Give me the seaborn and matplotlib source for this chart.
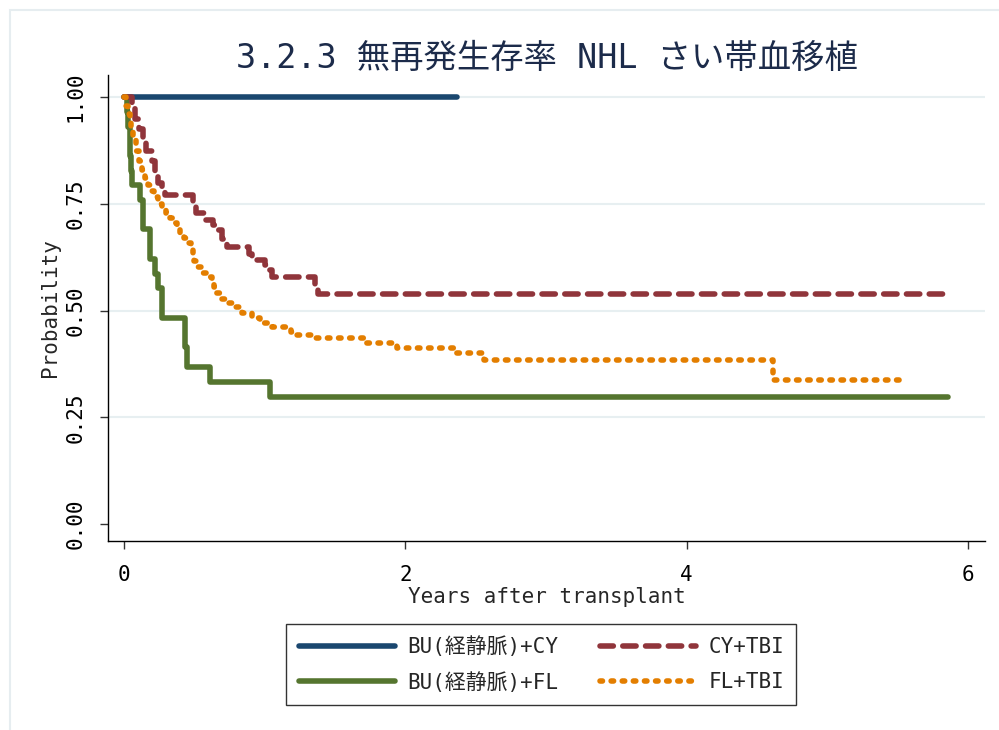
import numpy as np
import pandas as pd
import seaborn as sns
import matplotlib.pyplot as plt
from matplotlib.patches import Rectangle

# Kaplan-Meier step values
groups = ["BU(経静脈)+CY", "BU(経静脈)+FL", "CY+TBI", "FL+TBI"]

bu_cy_time = [0.0, 2.37]
bu_cy_surv = [1.0, 1.0]

bu_fl_time = [0.0, 0.02, 0.03, 0.04, 0.045, 0.05, 0.06, 0.113, 0.135, 0.185,
              0.22, 0.245, 0.27, 0.435, 0.45, 0.61, 1.04, 5.86]
bu_fl_surv = [1.0, 0.965, 0.93, 0.895, 0.862, 0.828, 0.794, 0.759, 0.69, 0.621,
              0.586, 0.552, 0.483, 0.414, 0.368, 0.333, 0.298, 0.298]

cy_tbi_time = [0.0, 0.06, 0.08, 0.11, 0.135, 0.16, 0.20, 0.22, 0.245, 0.27,
               0.29, 0.49, 0.51, 0.57, 0.63, 0.66, 0.70, 0.73, 0.89, 0.91,
               1.0, 1.02, 1.05, 1.36, 1.38, 5.82]
cy_tbi_surv = [1.0, 0.975, 0.95, 0.925, 0.9, 0.875, 0.85, 0.825, 0.80, 0.787,
               0.77, 0.745, 0.728, 0.712, 0.70, 0.688, 0.667, 0.649, 0.632, 0.618,
               0.606, 0.595, 0.578, 0.557, 0.538, 0.538]

fl_tbi_time = [0.0, 0.014, 0.028, 0.043, 0.05, 0.064, 0.085, 0.107, 0.128, 0.149,
               0.171, 0.192, 0.213, 0.242, 0.27, 0.299, 0.327, 0.348, 0.377, 0.398,
               0.426, 0.455, 0.476, 0.49, 0.498, 0.512, 0.554, 0.59, 0.625, 0.64,
               0.654, 0.697, 0.725, 0.775, 0.839, 0.91, 0.967, 1.052, 1.187, 1.208,
               1.343, 1.72, 1.94, 2.35, 2.56, 4.61, 5.55]
fl_tbi_surv = [1.0, 0.98, 0.96, 0.94, 0.92, 0.90, 0.875, 0.85, 0.83, 0.81,
               0.794, 0.78, 0.765, 0.75, 0.74, 0.728, 0.716, 0.705, 0.692, 0.681,
               0.67, 0.658, 0.645, 0.63, 0.615, 0.602, 0.588, 0.578, 0.571, 0.555,
               0.541, 0.528, 0.518, 0.508, 0.494, 0.482, 0.47, 0.461, 0.45, 0.443,
               0.436, 0.424, 0.412, 0.40, 0.384, 0.337, 0.337]

times = [bu_cy_time, bu_fl_time, cy_tbi_time, fl_tbi_time]
survs = [bu_cy_surv, bu_fl_surv, cy_tbi_surv, fl_tbi_surv]

df = pd.concat(
    [pd.DataFrame({"time": t, "surv": s, "group": g}) for g, t, s in zip(groups, times, survs)],
    ignore_index=True,
)

colors = ["#1a476f", "#55752f", "#90353b", "#e37e00"]
dashes = [None, None, (2.4, 1.7), (0.45, 1.55)]

sns.set_theme(style="white")
plt.rcParams["font.family"] = ["DejaVu Sans Mono", "Noto Sans CJK JP"]

fig = plt.figure(figsize=(9.99, 7.30), dpi=100)
ax = fig.add_axes([0.108, 0.259, 0.878, 0.638])

lw = 4
for g, c, d in zip(groups, colors, dashes):
    kw = dict(solid_capstyle="round", dash_capstyle="round")
    if d is not None:
        kw["dashes"] = d
    sns.lineplot(data=df[df["group"] == g], x="time", y="surv", ax=ax,
                 drawstyle="steps-post", estimator=None, color=c, lw=lw,
                 label=g, **kw)

ax.set_xlim(-0.114, 6.12)
ax.set_ylim(-0.0398, 1.0515)
ax.set_xticks([0, 2, 4, 6])
ax.set_yticks([0, 0.25, 0.5, 0.75, 1.0])
ax.set_yticklabels(["0.00", "0.25", "0.50", "0.75", "1.00"])
plt.setp(ax.get_yticklabels(), rotation=90, va="center")

ax.tick_params(axis="both", direction="out", length=6, width=1, color="#333333",
               labelsize=15, colors="black", left=True, bottom=True)
ax.tick_params(axis="y", pad=10)
ax.tick_params(axis="x", pad=11)

ax.yaxis.grid(True, color="#e7eff1", lw=1.5)
ax.xaxis.grid(False)
ax.yaxis.get_gridlines()[0].set_visible(False)
ax.set_axisbelow(True)

for side in ["top", "right"]:
    ax.spines[side].set_visible(False)
for side in ["left", "bottom"]:
    ax.spines[side].set_color("black")
    ax.spines[side].set_linewidth(1.0)

ax.set_xlabel("Years after transplant", fontsize=15, labelpad=2)
ax.set_ylabel("Probability", fontsize=15, labelpad=4)

fig.text(547 / 999, 1 - 58 / 730, "3.2.3 無再発生存率 NHL さい帯血移植",
         ha="center", va="center", fontsize=24, color="#1c2b4a")

handles, labels = ax.get_legend_handles_labels()
leg = ax.legend(handles, labels, ncol=2, loc="center",
                bbox_to_anchor=(0.542, 0.0897), bbox_transform=fig.transFigure,
                frameon=True, fancybox=False, edgecolor="black", fontsize=15,
                handlelength=4.6, handletextpad=0.6, columnspacing=2.0,
                labelspacing=0.7, borderpad=0.6)
leg.get_frame().set_linewidth(1.0)

# light outer border of the graph region
fig.add_artist(Rectangle((10 / 999, -0.01), 1.0, 1 - 10 / 730 + 0.01, fill=False,
                         ec="#e6edf0", lw=1.5, transform=fig.transFigure))

fig.savefig("out.png", dpi=100, facecolor="white")
